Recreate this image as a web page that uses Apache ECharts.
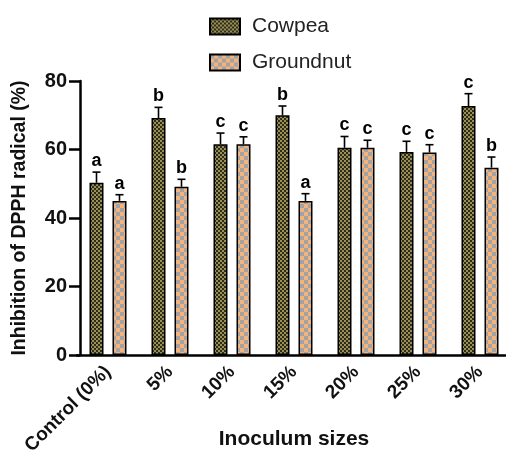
<!DOCTYPE html>
<html><head><meta charset="utf-8">
<script src="https://cdn.jsdelivr.net/npm/echarts@6/dist/echarts.min.js"></script>
<style>html,body{margin:0;padding:0;background:#fff}#c{width:506px;height:467px}</style>
</head><body><div id="c"></div>
<script>
var categories = ['Control (0%)', '5%', '10%', '15%', '20%', '25%', '30%'];
var cowpea = [50.3, 69.2, 61.5, 70.0, 60.5, 59.3, 72.7];
var cowpeaErr = [3.1, 3.1, 3.3, 2.7, 3.3, 3.1, 3.6];
var cowpeaLetters = ['a', 'b', 'c', 'b', 'c', 'c', 'c'];
var groundnut = [45.0, 49.1, 61.5, 45.0, 60.5, 59.1, 54.7];
var groundnutErr = [1.8, 2.2, 2.2, 2.1, 2.2, 2.3, 3.1];
var groundnutLetters = ['a', 'b', 'c', 'a', 'c', 'c', 'b'];
var yTicks = [0, 20, 40, 60, 80];

function checker(c1, c2, cell) {
  var cv = document.createElement('canvas');
  cv.width = cell * 2; cv.height = cell * 2;
  var g = cv.getContext('2d');
  g.fillStyle = c1; g.fillRect(0, 0, cell * 2, cell * 2);
  g.fillStyle = c2; g.fillRect(0, 0, cell, cell); g.fillRect(cell, cell, cell, cell);
  return { image: cv, repeat: 'repeat' };
}
var cowFill = checker('#2e2c1a', '#9a8f55', 2);
var gnFill = checker('#f2b47c', '#a3a3a3', 4);

var BW = 14, GAP = 9;
var FONT = '"Liberation Sans", Arial, sans-serif';

function errSeries(name, vals, errs, letters, side) {
  var data = vals.map(function (v, i) { return [i, v, v + errs[i], letters[i]]; });
  return {
    type: 'custom', name: name + '_err', z: 5, silent: true,
    data: data,
    renderItem: function (params, api) {
      var i = api.value(0);
      var base = api.coord([i, api.value(1)]);
      var top = api.coord([i, api.value(2)]);
      var x = base[0] + side * (BW + GAP) / 2;
      return {
        type: 'group', children: [
          { type: 'line', shape: { x1: x, y1: base[1], x2: x, y2: top[1] }, style: { stroke: '#000', lineWidth: 1.6 } },
          { type: 'line', shape: { x1: x - 4, y1: top[1], x2: x + 4, y2: top[1] }, style: { stroke: '#000', lineWidth: 1.6 } },
          { type: 'text', x: x, y: top[1] - 2, style: { text: letters[i], fill: '#000', font: 'bold 18px ' + FONT, align: 'center', verticalAlign: 'bottom' } }
        ]
      };
    }
  };
}

var chart = echarts.init(document.getElementById('c'), null, { renderer: 'canvas' });
chart.setOption({
  animation: false,
  legend: {
    orient: 'vertical', left: 204, top: 11, itemWidth: 30, itemHeight: 16, itemGap: 15,
    data: ['Cowpea', 'Groundnut'], icon: 'rect',
    textStyle: { fontFamily: FONT, fontSize: 21, color: '#222', padding: [0, 0, 0, 7] }
  },
  grid: { left: 77, right: -5, top: 81, bottom: 112, containLabel: false, outerBoundsMode: 'none' },
  xAxis: {
    type: 'category', data: categories,
    name: 'Inoculum sizes', nameLocation: 'middle', nameGap: 74, nameMoveOverlap: false,
    nameTextStyle: { fontFamily: FONT, fontSize: 21, fontWeight: 'bold', color: '#111', padding: [0, 0, 0, 0] },
    axisLine: { lineStyle: { color: '#000', width: 2.5 } },
    axisTick: { alignWithLabel: true, length: 11, lineStyle: { color: '#000', width: 2.5 } },
    axisLabel: { rotate: 45, margin: 14, fontFamily: FONT, fontSize: 19, fontWeight: 'bold', color: '#111', interval: 0 }
  },
  yAxis: {
    type: 'value', min: 0, max: 80, interval: 20, offset: -3,
    name: 'Inhibition of DPPH radical (%)', nameLocation: 'middle', nameGap: 50, nameMoveOverlap: false,
    nameTextStyle: { fontFamily: FONT, fontSize: 19.5, fontWeight: 'bold', color: '#111' },
    axisLine: { show: true, lineStyle: { color: '#000', width: 2.5 } },
    axisTick: { show: true, length: 11, lineStyle: { color: '#000', width: 2.5 } },
    splitLine: { show: false },
    axisLabel: { margin: 13, fontFamily: FONT, fontSize: 20, fontWeight: 'bold', color: '#111',
      formatter: function (v) { return yTicks.indexOf(v) >= 0 ? String(v) : ''; } }
  },
  series: [
    { type: 'bar', name: 'Cowpea', data: cowpea, barWidth: BW, barGap: (GAP / BW * 100) + '%',
      itemStyle: { color: cowFill, borderColor: '#000', borderWidth: 1.5 } },
    { type: 'bar', name: 'Groundnut', data: groundnut, barWidth: BW,
      itemStyle: { color: gnFill, borderColor: '#000', borderWidth: 1.5 } },
    errSeries('Cowpea', cowpea, cowpeaErr, cowpeaLetters, -1),
    errSeries('Groundnut', groundnut, groundnutErr, groundnutLetters, 1)
  ]
});
</script></body></html>
